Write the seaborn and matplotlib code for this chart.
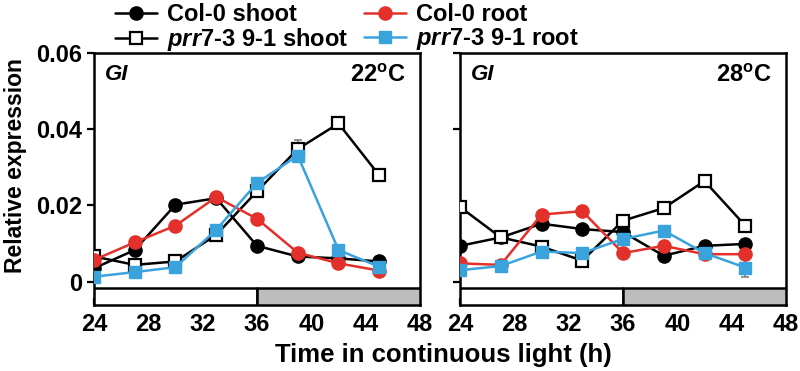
import numpy as np
import pandas as pd
import matplotlib
matplotlib.use("Agg")
import matplotlib.pyplot as plt
import seaborn as sns

# === DATOS ===
horas = [24, 27, 30, 33, 36, 39, 42, 45]

# 22 oC
col_shoot_22 = [0.0035, 0.0083, 0.0202, 0.0219, 0.0094, 0.0066, 0.0061, 0.0053]
prr_shoot_22 = [0.0066, 0.0044, 0.0053, 0.0123, 0.0237, 0.0348, 0.0415, 0.0279]
col_root_22 = [0.0057, 0.0103, 0.0147, 0.0222, 0.0165, 0.0076, 0.0048, 0.0029]
prr_root_22 = [0.0013, 0.0025, 0.0038, 0.0136, 0.0259, 0.0331, 0.0083, 0.0039]
err_prr_shoot_22 = [0.0003, 0.0003, 0.0003, 0.0005, 0.0005, 0.0025, 0.0005, 0.0005]

# 28 oC
col_shoot_28 = [0.0094, 0.0116, 0.0152, 0.0138, 0.0130, 0.0068, 0.0094, 0.0099]
prr_shoot_28 = [0.0196, 0.0116, 0.0092, 0.0055, 0.0160, 0.0193, 0.0264, 0.0147]
col_root_28 = [0.0048, 0.0044, 0.0176, 0.0185, 0.0075, 0.0094, 0.0072, 0.0072]
prr_root_28 = [0.0030, 0.0041, 0.0079, 0.0075, 0.0112, 0.0134, 0.0075, 0.0037]
err_col_shoot_28 = [0.0005, 0.0004, 0.0012, 0.0006, 0.0005, 0.0008, 0.0010, 0.0004]
err_prr_root_28 = [0.0004, 0.0003, 0.0005, 0.0004, 0.0005, 0.0004, 0.0006, 0.0026]

series = ["Col-0 shoot", "prr shoot", "Col-0 root", "prr root"]
etiquetas = [
    "Col-0 shoot",
    r"$\mathit{prr7}$-$\mathit{3\ 9}$-$\mathit{1}$ shoot",
    "Col-0 root",
    r"$\mathit{prr7}$-$\mathit{3\ 9}$-$\mathit{1}$ root",
]
paneles = ["22", "28"]
y_ticks = [0, 0.02, 0.04, 0.06]
y_tick_labels = ["0", "0.02", "0.04", "0.06"]
y_ticks_der = [0, 0.04, 0.06]
x_ticks = [24, 28, 32, 36, 40, 44, 48]

datos = {
    "22": [col_shoot_22, prr_shoot_22, col_root_22, prr_root_22],
    "28": [col_shoot_28, prr_shoot_28, col_root_28, prr_root_28],
}
errores = {
    "22": {"prr shoot": err_prr_shoot_22},
    "28": {"Col-0 shoot": err_col_shoot_28, "prr root": err_prr_root_28},
}

# === ESTILO ===
sns.set_style("ticks")
plt.rcParams["font.family"] = ["Liberation Sans", "DejaVu Sans"]
plt.rcParams["font.weight"] = "bold"
plt.rcParams["text.color"] = "black"
plt.rcParams["axes.labelcolor"] = "black"
plt.rcParams["axes.edgecolor"] = "black"
plt.rcParams["xtick.color"] = "black"
plt.rcParams["ytick.color"] = "black"
plt.rcParams["mathtext.fontset"] = "custom"
plt.rcParams["mathtext.it"] = "Liberation Sans:italic:bold"
plt.rcParams["mathtext.rm"] = "Liberation Sans:bold"
plt.rcParams["mathtext.bf"] = "Liberation Sans:bold"

estilos = {
    "Col-0 shoot": dict(color="black", marker="o", mfc="black", mec="black", ms=9.5),
    "prr shoot": dict(color="black", marker="s", mfc="white", mec="black", ms=8.5, mew=1.6),
    "Col-0 root": dict(color="#E3302B", marker="o", mfc="#E3302B", mec="#E3302B", ms=9.5),
    "prr root": dict(color="#3AA3DC", marker="s", mfc="#3AA3DC", mec="#3AA3DC", ms=8.5),
}

fig = plt.figure(figsize=(8, 3.71), dpi=100)
ax1 = fig.add_axes([94 / 800, 1 - 305 / 371, 326 / 800, 252 / 371])
ax2 = fig.add_axes([460 / 800, 1 - 305 / 371, 326 / 800, 252 / 371])

y_min = -0.00613
barra_top = -0.00166

for ax, panel in zip([ax1, ax2], paneles):
    for nombre, valores in zip(series, datos[panel]):
        st = estilos[nombre]
        err = errores[panel].get(nombre)
        if err is not None:
            ax.errorbar(horas, valores, yerr=err, fmt="none", ecolor="#808080",
                        elinewidth=1.2, capsize=3, capthick=1.2, zorder=1)
        sns.lineplot(x=horas, y=valores, ax=ax, color=st["color"], lw=1.8,
                     marker=st["marker"], markersize=st["ms"],
                     markerfacecolor=st["mfc"], markeredgecolor=st["mec"],
                     markeredgewidth=st.get("mew", 1), zorder=3)

    # barra de luz / oscuridad subjetiva
    ax.fill_between([24, 36], y_min, barra_top, facecolor="white",
                    edgecolor="black", lw=1.8, zorder=4)
    ax.fill_between([36, 48], y_min, barra_top, facecolor="#BDBDBD",
                    edgecolor="black", lw=1.8, zorder=4)

    ax.set_xlim(24, 48)
    ax.set_ylim(y_min, 0.06)
    ax.set_xticks(x_ticks)
    ax.set_xticklabels([str(t) for t in x_ticks], fontsize=17, fontweight="bold")
    ax.tick_params(axis="x", direction="in", length=5, width=1.6, pad=6)
    ax.tick_params(axis="y", direction="out", length=5, width=1.6)
    for s in ax.spines.values():
        s.set_linewidth(1.8)
        s.set_visible(True)
    ax.set_xlabel("")
    ax.set_ylabel("")
    ax.text(0.034, 0.955, "GI", transform=ax.transAxes, fontsize=16,
            fontstyle="italic", fontweight="bold", va="top", ha="left")
    ax.text(0.955, 0.955, panel + r"$^{\mathrm{o}}$C", transform=ax.transAxes,
            fontsize=17, fontweight="bold", va="top", ha="right")

ax1.set_yticks(y_ticks)
ax1.set_yticklabels(y_tick_labels, fontsize=17, fontweight="bold")
ax2.set_yticks(y_ticks_der)
ax2.set_yticklabels([])

fig.text(443 / 800, 0.042, "Time in continuous light (h)", ha="center", va="center",
         fontsize=18.5, fontweight="bold")
fig.text(0.02, 0.555, "Relative expression", ha="center", va="center",
         rotation=90, fontsize=16.5, fontweight="bold")

# === LEYENDA ===
handles = []
for nombre in series:
    st = estilos[nombre]
    h, = ax1.plot([], [], color=st["color"], lw=1.8, marker=st["marker"],
                  ms=st["ms"], mfc=st["mfc"], mec=st["mec"], mew=st.get("mew", 1))
    handles.append(h)
fig.legend(handles, etiquetas, ncol=2, loc="upper left",
           bbox_to_anchor=(103 / 800, 1.024), frameon=False, borderpad=0,
           handlelength=1.8, handletextpad=0.42, columnspacing=0.65,
           labelspacing=0.0, prop={"weight": "bold", "size": 17})

fig.savefig("out.png", dpi=100)
